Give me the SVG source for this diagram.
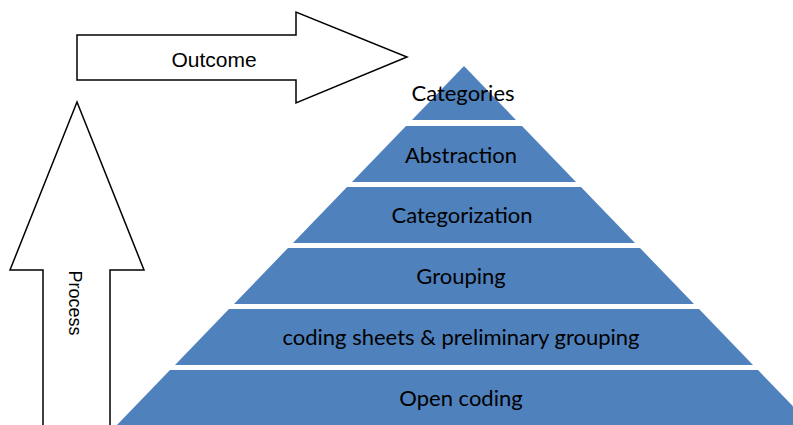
<svg xmlns="http://www.w3.org/2000/svg" width="793" height="425" viewBox="0 0 793 425">
  <style>
    .block { fill: none; stroke: #000; stroke-width: 1.5; stroke-linejoin: miter; }
    .arrow-fill { fill: #fff; }
    .tier { fill: #4F81BD; }
    .tier-label { font-family: Lato, "Open Sans", sans-serif; font-size: 22px; fill: #000; text-anchor: middle; dominant-baseline: central; }
    .arrow-label { font-family: "Liberation Sans", Arial, sans-serif; fill: #000; text-anchor: middle; dominant-baseline: central; }
  </style>
  <rect width="793" height="425" fill="#fff"/>

  <g id="connectors">
    <!-- horizontal block arrow -->
    <g id="outcome-arrow">
      <path class="block arrow-fill" d="M77,35 H296 V12 L407,57 L296,103 V80 H77 Z"/>
      <text class="arrow-label" x="214" y="59" font-size="21">Outcome</text>
    </g>
    <!-- vertical block arrow -->
    <g id="process-arrow">
      <path class="block arrow-fill" d="M43,426 V270 H10 L77,102 L144,270 H110 V426"/>
      <text class="arrow-label" x="0" y="0" font-size="18" transform="translate(75,303) rotate(90)">Process</text>
    </g>
  </g>

  <!-- pyramid tiers, apex (464,66), side slope 0.964 -->
  <g id="tier-categories">
    <polygon class="tier" points="464,66 412,120 516,120"/>
    <text class="tier-label" x="463" y="92">Categories</text>
  </g>
  <g id="tier-abstraction">
    <polygon class="tier" points="406,126 522,126 576,182 352,182"/>
    <text class="tier-label" x="461" y="154">Abstraction</text>
  </g>
  <g id="tier-categorization">
    <polygon class="tier" points="347,187 581,187 635,243 293,243"/>
    <text class="tier-label" x="462" y="214">Categorization</text>
  </g>
  <g id="tier-grouping">
    <polygon class="tier" points="288,248 640,248 694,304 234,304"/>
    <text class="tier-label" x="461" y="275">Grouping</text>
  </g>
  <g id="tier-coding-sheets">
    <polygon class="tier" points="229,309 699,309 753,365 175,365"/>
    <text class="tier-label" x="461" y="336">coding sheets &amp; preliminary grouping</text>
  </g>
  <g id="tier-open-coding">
    <polygon class="tier" points="170,370 758,370 812,426 116,426"/>
    <text class="tier-label" x="461" y="397">Open coding</text>
  </g>
</svg>
